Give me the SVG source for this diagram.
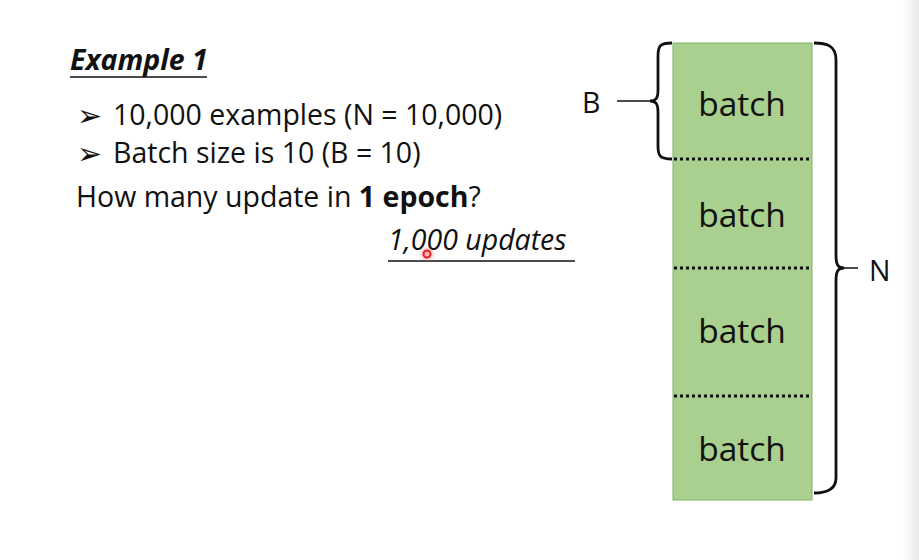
<svg xmlns="http://www.w3.org/2000/svg" width="919" height="560" viewBox="0 0 919 560">
<defs>
<linearGradient id="edge" x1="0" x2="1" y1="0" y2="0">
<stop offset="0" stop-color="#ffffff"/>
<stop offset="1" stop-color="#e9e9e9"/>
</linearGradient>
<radialGradient id="glow">
<stop offset="0" stop-color="#ff4040" stop-opacity="0.5"/>
<stop offset="1" stop-color="#ff4040" stop-opacity="0"/>
</radialGradient>
</defs>
<style>
.t{font-family:"Open Sans","Liberation Sans",sans-serif;fill:#111;font-size:28.5px}
.ar{font-family:"DejaVu Sans",sans-serif;fill:#111;font-size:30px}
.b{font-family:"Open Sans","Liberation Sans",sans-serif;fill:#111;font-size:33.5px;text-anchor:middle}
.ln{stroke:#111;stroke-width:1.5;fill:none}
.br{stroke:#111;stroke-width:2.8;fill:none}
.dot{stroke:#111;stroke-width:3;stroke-dasharray:3 3;fill:none}
</style>
<rect width="919" height="560" fill="#ffffff"/>
<rect x="902" y="0" width="17" height="560" fill="url(#edge)"/>
<g id="text-left">
<text class="t" x="70" y="70" font-weight="bold" font-style="italic">Example 1</text>
<line class="ln" x1="70" y1="77" x2="207" y2="77"/>
<text class="ar" x="77" y="126">➢</text>
<text class="t" x="113" y="125">10,000 examples (N = 10,000)</text>
<text class="ar" x="77" y="164">➢</text>
<text class="t" x="113" y="163">Batch size is 10 (B = 10)</text>
<text class="t" x="76" y="207">How many update in <tspan font-weight="bold">1 epoch</tspan>?</text>
<text class="t" x="388" y="250" font-style="italic" font-size="29.5">1,000 updates</text>
<line class="ln" x1="388" y1="261" x2="575" y2="261"/>
<circle cx="427" cy="254" r="9" fill="url(#glow)"/>
<circle cx="427" cy="254" r="3.5" fill="none" stroke="#e02020" stroke-width="2"/>
</g>
<g id="stack">
<rect x="673" y="43" width="139" height="457" fill="#a9d08e" stroke="#82b366" stroke-width="1"/>
<text class="b" x="742" y="116">batch</text>
<text class="b" x="742" y="227">batch</text>
<text class="b" x="742" y="343">batch</text>
<text class="b" x="742" y="461">batch</text>
</g>
<g id="connectors">
<line class="dot" x1="674" y1="159" x2="810" y2="159"/>
<line class="dot" x1="674" y1="268" x2="810" y2="268"/>
<line class="dot" x1="674" y1="396" x2="810" y2="396"/>
<path class="br" d="M672,43 C660,43 658,46 658,56 L658,90 C658,98 656,101 650,101 C656,101 658,104 658,112 L658,146 C658,156 660,159 672,159"/>
<line class="ln" x1="617" y1="101" x2="650" y2="101" stroke-width="2.2"/>
<path class="br" d="M814,43 C826,43 836,45 836,60 L836,255 C836,265 838,268 844,268 C838,268 836,271 836,281 L836,478 C836,490 826,493 814,493"/>
<line class="ln" x1="844" y1="268" x2="858" y2="268" stroke-width="2.2"/>
</g>
<g id="labels">
<text class="t" x="582" y="113" font-size="33">B</text>
<text class="t" x="869" y="281" font-size="33">N</text>
</g>
</svg>
